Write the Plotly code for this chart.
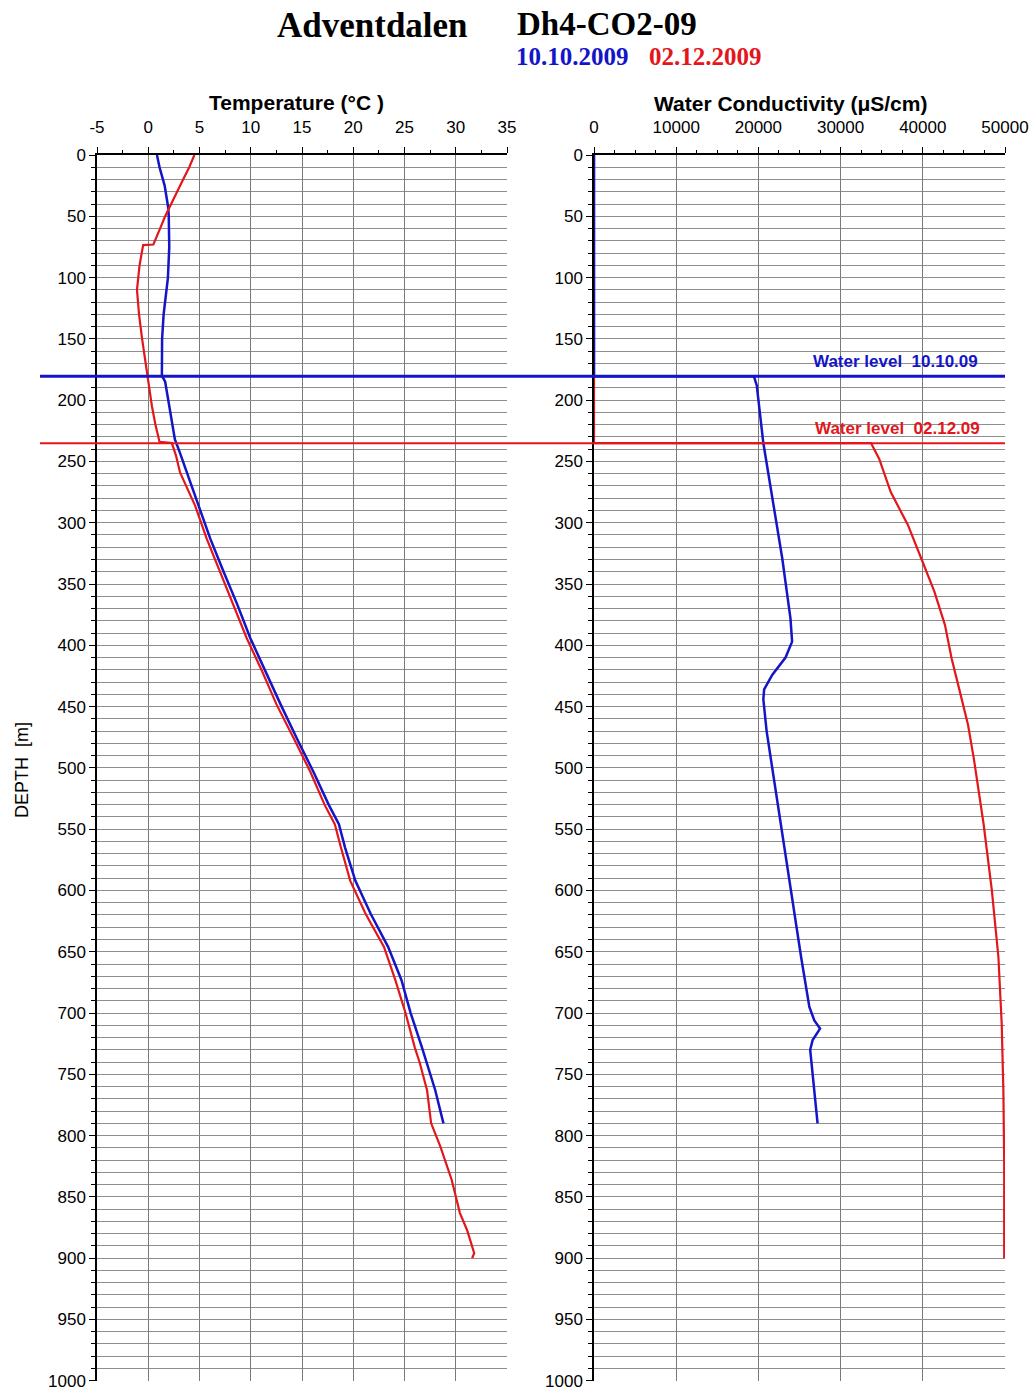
import plotly.graph_objects as go

# ---------------- data ----------------
# Temperature, 10.10.2009 (blue)
t1_depth = [0, 10, 25, 43, 50, 75, 100, 130, 150, 180, 185, 200, 225, 232, 242, 259, 286, 313,
            340, 367, 394, 421, 448, 476, 503, 530, 546, 565, 592, 619, 646, 673, 700, 728, 741, 763, 790]
t1_temp = [0.85, 1.1, 1.6, 1.95, 2.0, 2.05, 1.92, 1.5, 1.35, 1.33, 1.65, 1.95, 2.4, 2.6, 3.05, 3.75, 4.9, 6.05,
           7.35, 8.7, 9.95, 11.4, 12.9, 14.5, 16.1, 17.6, 18.6, 19.2, 20.2, 21.7, 23.4, 24.7, 25.6, 26.7, 27.2, 28.0, 28.8]

# Temperature, 02.12.2009 (red)
t2_depth = [0, 10, 20, 30, 43, 50, 60, 73, 73.5, 90, 110, 130, 150, 170, 181, 205, 220, 234, 235, 245, 259, 286,
            313, 340, 367, 394, 421, 448, 476, 503, 530, 546, 565, 592, 619, 646, 673, 700, 728, 741, 763,
            785, 790, 809, 836, 863, 877, 896, 900]
t2_temp = [4.5, 4.0, 3.4, 2.8, 2.0, 1.65, 1.15, 0.5, -0.5, -0.85, -1.1, -0.9, -0.6, -0.25, -0.07, 0.36, 0.7, 1.1, 2.3,
           2.7, 3.1, 4.57, 5.7, 7.0, 8.3, 9.6, 11.1, 12.5, 14.2, 15.8, 17.2, 18.2, 18.8, 19.7, 21.2, 23.0, 24.1,
           25.1, 26.0, 26.5, 27.2, 27.5, 27.6, 28.5, 29.6, 30.4, 31.1, 31.8, 31.6]

# Water conductivity, 10.10.2009 (blue)
c1_depth = [0, 180.5, 180.5, 188, 235, 275, 329, 378, 397, 410, 424, 436, 444, 470, 505, 546, 600, 654.5,
            695, 706, 712.7, 722, 730, 763, 790]
c1_cond = [0, 0, 19450, 19800, 20600, 21600, 22900, 23900, 24100, 23300, 21700, 20700, 20600, 21000, 21800,
           22700, 23900, 25200, 26200, 26800, 27500, 26600, 26300, 26800, 27200]

# Water conductivity, 02.12.2009 (red)
c2_depth = [0, 235, 235, 248, 275, 302, 329, 356, 383.5, 410.6, 437.6, 464.8, 492, 546, 600, 654.5, 709, 763,
            820, 900]
c2_cond = [0, 0, 33700, 34700, 36100, 38200, 39800, 41400, 42700, 43500, 44500, 45500, 46200, 47400, 48400,
           49200, 49600, 49800, 49900, 49900]

water_level_1 = 180.5   # 10.10.09
water_level_2 = 235.2   # 02.12.09

temp_ticks = [-5, 0, 5, 10, 15, 20, 25, 30, 35]
temp_labels = ["-5", "0", "5", "10", "15", "20", "25", "30", "35"]
cond_ticks = [0, 10000, 20000, 30000, 40000, 50000]
cond_labels = ["0", "10000", "20000", "30000", "40000", "50000"]
depth_ticks = list(range(0, 1001, 50))
depth_labels = [str(d) for d in depth_ticks]

# ---------------- styling ----------------
W, H = 1032, 1392
BLUE = "#1414c8"
RED = "#e3161b"
SANS = "Liberation Sans, Arial, sans-serif"
SERIF = "Liberation Serif, Times New Roman, serif"


def px_x(px):
    return px / W


def px_y(py):
    return 1 - py / H


fig = go.Figure()
fig.add_trace(go.Scatter(x=t1_temp, y=t1_depth, mode="lines", line=dict(color=BLUE, width=2.5),
                         xaxis="x", yaxis="y", showlegend=False))
fig.add_trace(go.Scatter(x=t2_temp, y=t2_depth, mode="lines", line=dict(color=RED, width=2.2),
                         xaxis="x", yaxis="y", showlegend=False))
fig.add_trace(go.Scatter(x=c2_cond, y=c2_depth, mode="lines", line=dict(color=RED, width=2.2),
                         xaxis="x2", yaxis="y2", showlegend=False))
fig.add_trace(go.Scatter(x=c1_cond, y=c1_depth, mode="lines", line=dict(color=BLUE, width=2.5),
                         xaxis="x2", yaxis="y2", showlegend=False))

xdom1 = [px_x(97), px_x(507)]
xdom2 = [px_x(594), px_x(1005)]
ydom = [px_y(1381), px_y(155)]

xcommon = dict(side="top", showline=True, linecolor="black", linewidth=1.5, ticks="outside",
               ticklen=6, tickwidth=1.2, tickcolor="black", showgrid=True, gridcolor="#7a7a7a",
               gridwidth=1, zeroline=False, tickfont=dict(family=SANS, size=17, color="black"),
               ticklabelstandoff=7, automargin=False, ticklabeloverflow="allow")
ycommon = dict(range=[1000.2, 0], tickvals=depth_ticks, ticktext=depth_labels, showline=True,
               linecolor="black", linewidth=1.5,
               ticks="outside", ticklen=6, tickwidth=1.2, tickcolor="black", showgrid=True,
               gridcolor="#8e8e8e", gridwidth=1.1, zeroline=False, automargin=False,
               ticklabeloverflow="allow",
               tickfont=dict(family=SANS, size=17, color="black"), domain=ydom,
               minor=dict(dtick=10, ticks="outside", ticklen=4, tickcolor="black", showgrid=True,
                          gridcolor="#8e8e8e", gridwidth=1.1))

fig.update_layout(
    width=W, height=H, margin=dict(l=0, r=0, t=0, b=0, autoexpand=False),
    paper_bgcolor="white", plot_bgcolor="white",
    xaxis=dict(range=[-5, 35], tickvals=temp_ticks, ticktext=temp_labels, domain=xdom1, anchor="y",
               minor=dict(dtick=2.5, ticks="outside", ticklen=3, tickcolor="black"), **xcommon),
    xaxis2=dict(range=[0, 50000], tickvals=cond_ticks, ticktext=cond_labels, domain=xdom2, anchor="y2",
                minor=dict(dtick=2500, ticks="outside", ticklen=3, tickcolor="black"), **xcommon),
    yaxis=dict(anchor="x", **ycommon),
    yaxis2=dict(anchor="x2", **ycommon),
)

# water level lines across both panels
fig.add_shape(type="line", xref="paper", yref="y", x0=px_x(40), x1=px_x(1005),
              y0=water_level_1, y1=water_level_1, line=dict(color=BLUE, width=2.8))
fig.add_shape(type="line", xref="paper", yref="y", x0=px_x(40), x1=px_x(1005),
              y0=water_level_2, y1=water_level_2, line=dict(color=RED, width=2))

ann = []
ann.append(dict(text="<b>Adventdalen</b>", x=px_x(372), y=px_y(25), xanchor="center", yanchor="middle",
                font=dict(family=SERIF, size=35, color="black")))
ann.append(dict(text="<b>Dh4-CO2-09</b>", x=px_x(515), y=px_y(24), xanchor="left", yanchor="middle",
                font=dict(family=SERIF, size=33, color="black")))
ann.append(dict(text="<b>10.10.2009</b>", x=px_x(514), y=px_y(56), xanchor="left", yanchor="middle",
                font=dict(family=SERIF, size=25, color=BLUE)))
ann.append(dict(text="<b>02.12.2009</b>", x=px_x(647), y=px_y(56), xanchor="left", yanchor="middle",
                font=dict(family=SERIF, size=25, color=RED)))
ann.append(dict(text="<b>Temperature (°C )</b>", x=px_x(296), y=px_y(102), xanchor="center", yanchor="middle",
                font=dict(family=SANS, size=21, color="black")))
ann.append(dict(text="<b>Water Conductivity (μS/cm)</b>", x=px_x(790), y=px_y(104), xanchor="center",
                yanchor="middle", font=dict(family=SANS, size=21, color="black")))
ann.append(dict(text="DEPTH\u00a0\u00a0[m]", x=px_x(22), y=px_y(770), xanchor="center", yanchor="middle",
                textangle=-90, font=dict(family=SANS, size=18, color="black")))
ann.append(dict(text="<b>Water level\u00a0\u00a010.10.09</b>", x=px_x(980), y=px_y(362), xanchor="right",
                yanchor="middle", font=dict(family=SANS, size=17, color=BLUE)))
ann.append(dict(text="<b>Water level\u00a0\u00a002.12.09</b>", x=px_x(982), y=px_y(428), xanchor="right",
                yanchor="middle", font=dict(family=SANS, size=17, color=RED)))
for a in ann:
    a.update(xref="paper", yref="paper", showarrow=False)
fig.update_layout(annotations=ann)

fig.write_html("out.html")
